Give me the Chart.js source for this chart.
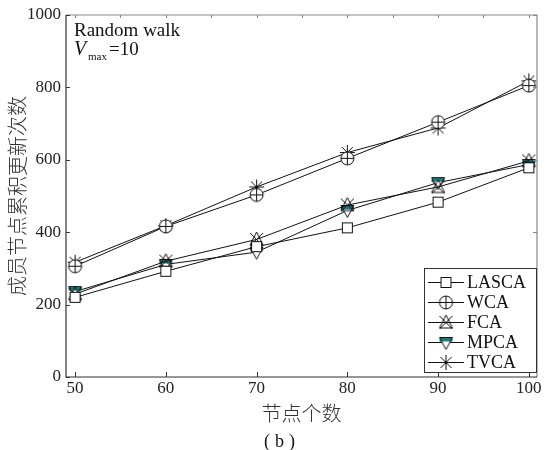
<!DOCTYPE html>
<html>
<head>
<meta charset="utf-8">
<script src="https://cdn.jsdelivr.net/npm/chart.js@4/dist/chart.umd.min.js"></script>
<style>
html, body { margin: 0; padding: 0; background: #fff; }
</style>
</head>
<body>
<canvas id="chart" width="545" height="450"></canvas>
<script>
const nodeCounts = [50, 60, 70, 80, 90, 100];

const lascaData = [220, 292, 360, 412, 483, 578];
const wcaData   = [306, 416, 503, 604, 704, 805];
const fcaData   = [229, 320, 380, 475, 525, 597];
const mpcaData  = [236, 311, 345, 460, 537, 587];
const tvcaData  = [317, 418, 525, 620, 688, 818];

const seriesNames = ["LASCA", "WCA", "FCA", "MPCA", "TVCA"];
const xTicks = [50, 60, 70, 80, 90, 100];
const yTicks = [0, 200, 400, 600, 800, 1000];

const xTitle = "节点个数";
const yTitle = "成员节点累积更新次数";
const noteLine1 = "Random walk";
const subLabel = "(b)";

const serif = "'Liberation Serif', 'DejaVu Serif', serif";
const cjk = "'Noto Sans CJK SC', sans-serif";
const teal = "#1d7f7c";

// marker pictures
function makeMarker(draw) {
    const c = document.createElement("canvas");
    c.width = 19; c.height = 19;
    const g = c.getContext("2d");
    g.translate(9.5, 9.5);
    g.lineWidth = 1;
    g.strokeStyle = "#111";
    draw(g);
    return c;
}

const squareMark = makeMarker(g => {
    g.fillStyle = "#fff";
    g.fillRect(-5, -5, 10, 10);
    g.strokeRect(-5, -5, 10, 10);
});

const circlePlusMark = makeMarker(g => {
    g.fillStyle = "#fff";
    g.beginPath(); g.arc(0, 0, 6.5, 0, Math.PI * 2); g.fill(); g.stroke();
    g.beginPath();
    g.moveTo(-6.5, 0); g.lineTo(6.5, 0);
    g.moveTo(0, -6.5); g.lineTo(0, 6.5);
    g.stroke();
});

const triXMark = makeMarker(g => {
    g.beginPath();
    g.moveTo(0, -7.5); g.lineTo(-6.5, 5.5); g.lineTo(6.5, 5.5); g.closePath();
    g.stroke();
    g.beginPath();
    g.moveTo(-6.5, -6.5); g.lineTo(6.5, 6.5);
    g.moveTo(6.5, -6.5); g.lineTo(-6.5, 6.5);
    g.stroke();
});

const downTriMark = makeMarker(g => {
    g.fillStyle = "#fff";
    g.beginPath();
    g.moveTo(-6.5, -5); g.lineTo(6.5, -5); g.lineTo(0, 7); g.closePath();
    g.fill();
    g.fillStyle = teal;
    g.fillRect(-6.5, -5, 13, 4);
    g.stroke();
});

const starMark = makeMarker(g => {
    g.beginPath();
    g.moveTo(0, -7.5); g.lineTo(0, 7.5);
    g.moveTo(-7.5, 0); g.lineTo(7.5, 0);
    g.moveTo(-5.5, -5.5); g.lineTo(5.5, 5.5);
    g.moveTo(5.5, -5.5); g.lineTo(-5.5, 5.5);
    g.stroke();
});

const seriesValues = [lascaData, wcaData, fcaData, mpcaData, tvcaData];
const seriesMarks = [squareMark, circlePlusMark, triXMark, downTriMark, starMark];

const datasets = seriesNames.map((name, i) => ({
    label: name,
    data: nodeCounts.map((n, j) => ({ x: n, y: seriesValues[i][j] })),
    borderColor: "#111",
    borderWidth: 1,
    pointStyle: seriesMarks[i],
    pointRadius: 7,
    tension: 0,
    fill: false,
    clip: false
}));

// frame, inward ticks, note text, legend, (b)
const decorPlugin = {
    id: "decor",
    afterDraw(chart) {
        const ctx = chart.ctx;
        const a = chart.chartArea;
        const xs = chart.scales.x;
        const ys = chart.scales.y;
        ctx.save();

        // frame
        ctx.lineWidth = 1.2;
        ctx.strokeStyle = "#888";
        ctx.beginPath();
        ctx.moveTo(a.left, a.top); ctx.lineTo(a.right, a.top); ctx.lineTo(a.right, a.bottom);
        ctx.stroke();
        ctx.strokeStyle = "#333";
        ctx.beginPath();
        ctx.moveTo(a.left, a.top); ctx.lineTo(a.left, a.bottom); ctx.lineTo(a.right, a.bottom);
        ctx.stroke();

        // ticks
        ctx.lineWidth = 1;
        ctx.strokeStyle = "#333";
        ctx.beginPath();
        xTicks.forEach(v => {
            const px = Math.round(xs.getPixelForValue(v)) + 0.5;
            ctx.moveTo(px, a.bottom); ctx.lineTo(px, a.bottom - 5);
        });
        yTicks.forEach(v => {
            const py = Math.round(ys.getPixelForValue(v)) + 0.5;
            ctx.moveTo(a.left, py); ctx.lineTo(a.left + 4, py);
        });
        ctx.stroke();
        ctx.strokeStyle = "#888";
        ctx.beginPath();
        for (let v = 50; v <= 100; v += 5) {
            const px = Math.round(xs.getPixelForValue(v)) + 0.5;
            ctx.moveTo(px, a.top); ctx.lineTo(px, a.top + 3);
        }
        yTicks.forEach(v => {
            const py = Math.round(ys.getPixelForValue(v)) + 0.5;
            ctx.moveTo(a.right, py); ctx.lineTo(a.right - 4, py);
        });
        ctx.stroke();

        // note in the corner
        ctx.fillStyle = "#111";
        ctx.textBaseline = "alphabetic";
        ctx.textAlign = "left";
        ctx.font = "19px " + serif;
        ctx.fillText(noteLine1, a.left + 8, 36);
        ctx.font = "italic 20px " + serif;
        ctx.fillText("V", a.left + 8, 55);
        ctx.font = "11px " + serif;
        ctx.fillText("max", a.left + 22, 60);
        ctx.font = "19px " + serif;
        ctx.fillText("=10", a.left + 43, 55);

        // legend
        const lx = 424, ly = 268, lw = 112, lh = 104;
        ctx.fillStyle = "#fff";
        ctx.fillRect(lx, ly, lw, lh);
        ctx.strokeStyle = "#333";
        ctx.lineWidth = 1;
        ctx.strokeRect(lx + 0.5, ly + 0.5, lw, lh);
        seriesNames.forEach((name, i) => {
            const cy = 282 + i * 20;
            ctx.strokeStyle = "#111";
            ctx.beginPath();
            ctx.moveTo(428, cy + 0.5); ctx.lineTo(464, cy + 0.5);
            ctx.stroke();
            const m = seriesMarks[i];
            ctx.drawImage(m, 446 - m.width / 2, cy - m.height / 2 + 0.5);
            ctx.fillStyle = "#111";
            ctx.font = "18px " + serif;
            ctx.textBaseline = "middle";
            ctx.fillText(name, 467, cy + 1);
        });

        // sub label
        ctx.font = "18px " + serif;
        ctx.textAlign = "center";
        ctx.textBaseline = "middle";
        ctx.letterSpacing = "5px";
        ctx.fillText(subLabel, 282, 442);
        ctx.restore();
    }
};

new Chart(document.getElementById("chart"), {
    type: "line",
    data: { datasets: datasets },
    plugins: [decorPlugin],
    options: {
        responsive: false,
        animation: false,
        layout: { padding: { top: 15, right: 6, bottom: 0, left: 0 } },
        plugins: {
            legend: { display: false },
            tooltip: { enabled: false }
        },
        scales: {
            x: {
                type: "linear",
                min: 49,
                max: 100.9,
                afterBuildTicks: s => { s.ticks = xTicks.map(v => ({ value: v })); },
                afterFit: s => { s.height = 73; s.paddingLeft = 0; s.paddingRight = 0; },
                grid: { display: false, drawTicks: false },
                border: { display: false },
                ticks: {
                    padding: 1,
                    color: "#222",
                    font: { family: serif, size: 17 },
                    maxRotation: 0,
                    callback: v => String(v)
                },
                title: {
                    display: true,
                    text: xTitle,
                    color: "#333",
                    font: { family: cjk, size: 20, weight: 300 },
                    padding: { top: 0, bottom: 25 }
                }
            },
            y: {
                min: 0,
                max: 1000,
                afterBuildTicks: s => { s.ticks = yTicks.map(v => ({ value: v })); },
                afterFit: s => { s.width = 66; s.paddingTop = 0; s.paddingBottom = 0; },
                grid: { display: false, drawTicks: false },
                border: { display: false },
                ticks: {
                    padding: 5,
                    color: "#222",
                    font: { family: serif, size: 17 },
                    callback: v => String(v)
                },
                title: {
                    display: true,
                    text: yTitle,
                    color: "#333",
                    font: { family: cjk, size: 20, weight: 300 },
                    padding: { top: 5, bottom: 0 }
                }
            }
        }
    }
});
</script>
</body>
</html>
